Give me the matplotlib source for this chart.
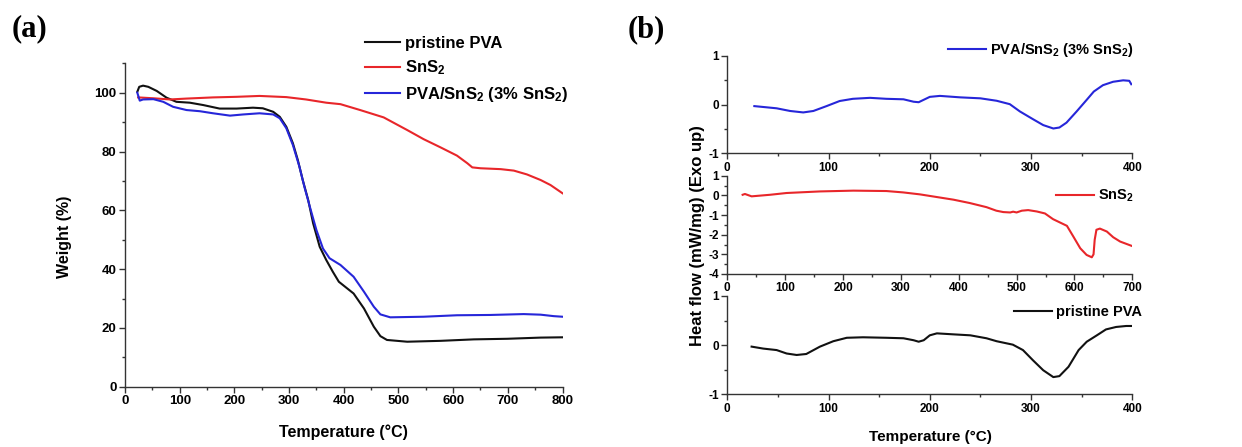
import matplotlib
matplotlib.use("Agg")
import matplotlib.pyplot as plt
from matplotlib.ticker import MultipleLocator

plt.rcParams['font.family'] = ['Liberation Sans', 'DejaVu Sans']
plt.rcParams['font.weight'] = 'bold'
plt.rcParams['mathtext.fontset'] = 'custom'
plt.rcParams['mathtext.rm'] = 'Liberation Sans:bold'
plt.rcParams['mathtext.bf'] = 'Liberation Sans:bold'
plt.rcParams['mathtext.default'] = 'bf'
plt.rcParams['axes.unicode_minus'] = False

# ---------------- Panel (a): TGA ----------------
tga_pva_T = [22.5, 26, 33, 42.6, 58, 76, 94, 118.6, 143, 173, 204, 234, 252, 271, 283, 295, 307,
             316, 325, 335, 344, 356, 368, 380, 391, 418, 437, 455, 467, 479, 516, 577, 638, 699, 760, 800]
tga_pva_W = [100.3, 102.0, 102.4, 102.0, 100.6, 98.3, 96.9, 96.6, 95.8, 94.6, 94.6, 94.9, 94.7, 93.5,
             91.8, 88.4, 82.8, 77.1, 70.3, 63.5, 55.6, 47.6, 43.1, 39.1, 35.7, 31.7, 26.6, 20.4, 17.2,
             15.9, 15.3, 15.6, 16.1, 16.3, 16.7, 16.8]

tga_sns2_T = [24, 52, 82, 112.5, 161, 204, 246, 295, 331, 368, 394, 430, 473, 516, 546, 577, 607,
              626, 635, 650, 687, 711, 735, 760, 778, 800]
tga_sns2_W = [98.4, 98.1, 97.7, 98.0, 98.4, 98.6, 98.9, 98.5, 97.7, 96.6, 96.1, 94.1, 91.6, 87.3,
              84.2, 81.4, 78.6, 76.0, 74.6, 74.3, 74.0, 73.5, 72.2, 70.3, 68.6, 65.8]

tga_comp_T = [22.5, 27, 33, 52, 70, 88, 112.5, 137, 161, 192, 216, 246, 271, 283, 295, 307, 319, 328,
              338, 350, 362, 374, 394, 418, 437, 455, 467, 485, 546, 607, 668, 729, 760, 784, 800]
tga_comp_W = [100.0, 97.3, 97.7, 97.8, 96.9, 95.2, 94.1, 93.7, 93.0, 92.2, 92.6, 93.0, 92.6, 91.3,
              87.9, 82.2, 74.8, 68.0, 61.2, 53.3, 47.0, 43.7, 41.4, 37.4, 32.3, 27.2, 24.6, 23.6,
              23.8, 24.3, 24.4, 24.7, 24.5, 24.0, 23.8]

# ---------------- Panel (b): DSC ----------------
dsc_comp_T = [26.7, 48.7, 62, 75, 85, 98, 111, 124, 141, 157, 174, 184, 189, 194, 200, 210, 230, 250,
              266, 279, 289, 302, 312, 322, 328, 335, 345, 355, 362, 371, 381, 391, 397, 399]
dsc_comp_H = [-0.03, -0.075, -0.13, -0.16, -0.13, -0.03, 0.075, 0.12, 0.14, 0.12, 0.11, 0.06, 0.05,
              0.10, 0.16, 0.18, 0.15, 0.13, 0.08, 0.01, -0.14, -0.30, -0.42, -0.49, -0.47, -0.37,
              -0.14, 0.10, 0.27, 0.40, 0.47, 0.50, 0.49, 0.42]

dsc_sns2_T = [26.5, 30.5, 42, 74, 102.5, 160, 218, 275, 304, 333, 362, 391, 419, 448, 465, 477, 489,
              494, 500, 509, 520, 535, 549, 563, 575, 587, 598, 610, 621, 630, 633, 635, 638, 644,
              656, 667, 679, 699]
dsc_sns2_H = [0.03, 0.07, -0.05, 0.03, 0.12, 0.20, 0.24, 0.22, 0.15, 0.05, -0.085, -0.22, -0.39,
              -0.60, -0.78, -0.85, -0.87, -0.83, -0.87, -0.78, -0.75, -0.82, -0.92, -1.21, -1.38,
              -1.55, -2.09, -2.69, -3.03, -3.15, -3.00, -2.26, -1.75, -1.69, -1.84, -2.13, -2.35, -2.57]

dsc_pva_T = [24, 35.5, 48.7, 58.6, 68.5, 78, 91.5, 104.7, 118, 134, 157, 174, 184, 189, 194, 200, 207,
             223, 240, 256, 266, 282, 292, 302, 312, 322, 328, 337, 347, 355, 365, 374, 384, 394, 399]
dsc_pva_H = [-0.03, -0.07, -0.10, -0.17, -0.20, -0.18, -0.03, 0.08, 0.15, 0.16, 0.15, 0.14, 0.10, 0.07,
             0.10, 0.20, 0.24, 0.22, 0.20, 0.14, 0.08, 0.01, -0.10, -0.31, -0.51, -0.65, -0.63, -0.44,
             -0.10, 0.07, 0.20, 0.32, 0.37, 0.39, 0.39]

lbl_pva = 'pristine PVA'
lbl_sns2 = 'SnS$_\\mathbf{2}$'
lbl_comp = 'PVA/SnS$_\\mathbf{2}$ (3% SnS$_\\mathbf{2}$)'

C_BLACK = '#111111'
C_RED = '#e8262a'
C_BLUE = '#2626d9'

W, H = 1242, 447
fig = plt.figure(figsize=(W / 100, H / 100), dpi=100)


def frac(l, t, r, b):
    return [l / W, 1 - b / H, (r - l) / W, (b - t) / H]


def style(ax, fs):
    for s in ['top', 'right']:
        ax.spines[s].set_visible(False)
    for s in ['left', 'bottom']:
        ax.spines[s].set_linewidth(1.0)
        ax.spines[s].set_color('#333333')
    ax.tick_params(which='major', direction='out', length=4, width=1.0, color='#333333',
                   labelsize=fs, pad=2)
    ax.tick_params(which='minor', direction='out', length=2.5, width=1.0, color='#333333')
    for t in ax.get_xticklabels() + ax.get_yticklabels():
        t.set_fontweight('bold')


# Panel (a)
axa = fig.add_axes(frac(125, 63.3, 562.5, 386.7))
axa.plot(tga_pva_T, tga_pva_W, color=C_BLACK, lw=1.5, label=lbl_pva)
axa.plot(tga_sns2_T, tga_sns2_W, color=C_RED, lw=1.5, label=lbl_sns2)
axa.plot(tga_comp_T, tga_comp_W, color=C_BLUE, lw=1.5, label=lbl_comp)
axa.set_xlim(0, 800)
axa.set_ylim(0, 110)
axa.xaxis.set_major_locator(MultipleLocator(100))
axa.xaxis.set_minor_locator(MultipleLocator(50))
axa.yaxis.set_minor_locator(MultipleLocator(10))
axa.set_yticks([0, 20, 40, 60, 80, 100])
style(axa, 9.5)
axa.legend(loc='upper left', bbox_to_anchor=(365 / W, 1 - 36 / H), bbox_transform=fig.transFigure,
           frameon=False, handlelength=2.1, handletextpad=0.3, labelspacing=0.45,
           borderpad=0, borderaxespad=0, prop={'weight': 'bold', 'size': 12})

fig.text(64 / W, 1 - 237 / H, 'Weight (%)', rotation=90, ha='center', va='center',
         fontsize=11.5, fontweight='bold')
fig.text(343 / W, 1 - 432 / H, 'Temperature (°C)', ha='center', va='center',
         fontsize=11.5, fontweight='bold')
fig.text(12 / W, 1 - 29 / H, '(a)', ha='left', va='center', fontsize=22, fontweight='bold',
         family=['Liberation Serif', 'DejaVu Serif'])
fig.text(628 / W, 1 - 30 / H, '(b)', ha='left', va='center', fontsize=22, fontweight='bold',
         family=['Liberation Serif', 'DejaVu Serif'])

# Panel (b)
ax1 = fig.add_axes(frac(727.3, 56, 1132.3, 153.3))
ax2 = fig.add_axes(frac(727.3, 175.7, 1132.3, 274))
ax3 = fig.add_axes(frac(727.3, 296, 1132.3, 394.3))

ax1.plot(dsc_comp_T, dsc_comp_H, color=C_BLUE, lw=1.5, label=lbl_comp)
ax2.plot(dsc_sns2_T, dsc_sns2_H, color=C_RED, lw=1.5, label=lbl_sns2)
ax3.plot(dsc_pva_T, dsc_pva_H, color=C_BLACK, lw=1.5, label=lbl_pva)

for ax, xmax, ylo in [(ax1, 400, -1), (ax2, 700, -4), (ax3, 400, -1)]:
    ax.set_xlim(0, xmax)
    ax.set_ylim(ylo, 1)
    ax.xaxis.set_major_locator(MultipleLocator(100))
    ax.xaxis.set_minor_locator(MultipleLocator(50))
    ax.yaxis.set_major_locator(MultipleLocator(1))
    ax.yaxis.set_minor_locator(MultipleLocator(0.5))
    style(ax, 8.5)
    ax.patch.set_alpha(0)

for ax, xr, yc in [(ax1, 1134, 50), (ax2, 1134, 196), (ax3, 1142, 312)]:
    ax.legend(loc='center right', bbox_to_anchor=(xr / W, 1 - yc / H), bbox_transform=fig.transFigure,
              frameon=False, handlelength=2.6, handletextpad=0.3, borderpad=0, borderaxespad=0,
              prop={'weight': 'bold', 'size': 10.5})

fig.text(697 / W, 1 - 236 / H, 'Heat flow (mW/mg) (Exo up)', rotation=90, ha='center', va='center',
         fontsize=12, fontweight='bold')
fig.text(930 / W, 1 - 437 / H, 'Temperature (°C)', ha='center', va='center',
         fontsize=11, fontweight='bold')

fig.savefig('out.png', dpi=100, facecolor='white')
